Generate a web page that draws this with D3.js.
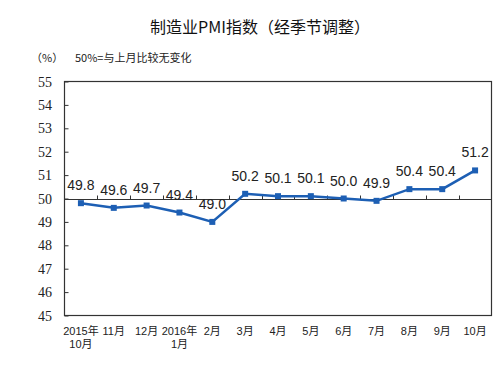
<!DOCTYPE html>
<html>
<head>
<meta charset="utf-8">
<script src="https://cdn.jsdelivr.net/npm/d3@7"></script>
<style>
html,body{margin:0;padding:0;background:#fff;}
svg{display:block;}
</style>
</head>
<body>
<svg id="chart" width="498" height="367"></svg>
<script>
const categories = [["2015年","10月"],["11月"],["12月"],["2016年","1月"],["2月"],["3月"],["4月"],["5月"],["6月"],["7月"],["8月"],["9月"],["10月"]];
const values = [49.8, 49.6, 49.7, 49.4, 49.0, 50.2, 50.1, 50.1, 50.0, 49.9, 50.4, 50.4, 51.2];
const yTicks = [45, 46, 47, 48, 49, 50, 51, 52, 53, 54, 55];
const title = "制造业PMI指数（经季节调整）";
const unitLabel = "（%）";
const note = "50%=与上月比较无变化";

const svg = d3.select("#chart");
const L = 64.5, R = 491.5, T = 81.5, B = 315.5;
const idx = categories.map((d,i)=>i);
const x = d3.scaleBand().domain(idx).range([L, R]).padding(0);
const y = d3.scaleLinear().domain([45, 55]).range([B, T]);
const color = "#1d5fb4";

// title
svg.append("text").attr("x", 260).attr("y", 33).attr("text-anchor","middle")
  .attr("font-family","'Noto Sans CJK SC', sans-serif").attr("font-size",16).attr("font-weight","400")
  .attr("fill","#111").text(title);
svg.append("text").attr("x", 31).attr("y", 62)
  .attr("font-family","'Noto Sans CJK SC', sans-serif").attr("font-size",11).attr("fill","#222").text(unitLabel);
svg.append("text").attr("x", 75).attr("y", 62)
  .attr("font-family","'Noto Sans CJK SC', sans-serif").attr("font-size",11).attr("fill","#222").text(note);

// y axis ticks (inward)
const yAxis = d3.axisRight(y).tickValues(yTicks).tickSize(4).tickFormat("");
const ya = svg.append("g").attr("transform", `translate(${L},0)`).call(yAxis);
ya.select(".domain").remove();
ya.selectAll("line").attr("stroke","#333");
svg.append("g").selectAll("text").data(yTicks).join("text")
  .attr("x", 52).attr("y", d => y(d) + 5).attr("text-anchor","end")
  .attr("font-family","'Liberation Serif', serif").attr("font-size",14).attr("fill","#222")
  .text(d => d);

// border
svg.append("rect").attr("x", L).attr("y", T).attr("width", R-L).attr("height", B-T)
  .attr("fill","none").attr("stroke","#333").attr("stroke-width",1.2);

// axis line at 50 with upward ticks at category boundaries
const y50 = Math.round(y(50)) + 0.5;
svg.append("line").attr("x1", L).attr("x2", R).attr("y1", y50).attr("y2", y50)
  .attr("stroke","#333").attr("stroke-width",1);
svg.append("g").selectAll("line").data(idx.slice(1)).join("line")
  .attr("x1", d => Math.round(x(d))+0.5).attr("x2", d => Math.round(x(d))+0.5)
  .attr("y1", y50).attr("y2", y50 - 4).attr("stroke","#333");

// x labels (one text element per line)
const xLines = [];
categories.forEach((d,i) => d.forEach((s,k) => xLines.push({i, k, s})));
svg.append("g").selectAll("text").data(xLines).join("text")
  .attr("x", d => x(d.i) + x.bandwidth()/2).attr("y", d => 335 + d.k*12.5).attr("text-anchor","middle")
  .attr("font-family","'Liberation Sans', 'Noto Sans CJK SC', sans-serif").attr("font-size",11).attr("fill","#222")
  .text(d => d.s);

// line
const cx = i => x(i) + x.bandwidth()/2;
svg.append("path").datum(values)
  .attr("d", d3.line().x((d,i)=>cx(i)).y(d=>y(d)))
  .attr("fill","none").attr("stroke",color).attr("stroke-width",2.5);
svg.append("g").selectAll("rect").data(values).join("rect")
  .attr("x",(d,i)=>cx(i)-3).attr("y",d=>y(d)-3).attr("width",6).attr("height",6).attr("fill",color);

// data labels
svg.append("g").selectAll("text").data(values).join("text")
  .attr("x",(d,i)=>cx(i)).attr("y",d=>y(d)-13).attr("text-anchor","middle")
  .attr("font-family","'Liberation Sans', Arial, sans-serif").attr("font-size",14).attr("fill","#222")
  .text(d => d.toFixed(1));
</script>
</body>
</html>
